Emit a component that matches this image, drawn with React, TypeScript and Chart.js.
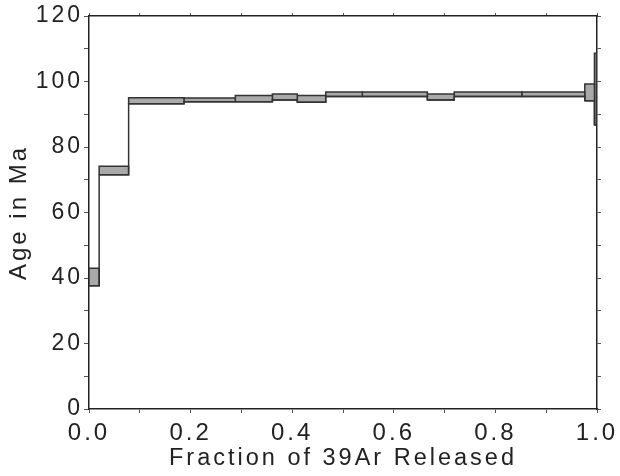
import React, { useEffect, useRef } from "react";
import { Chart, registerables } from "chart.js";

Chart.register(...registerables);

// Step boundaries (cumulative fraction of 39Ar released)
const stepStart = [0, 0.02, 0.078, 0.187, 0.288, 0.361, 0.41, 0.466, 0.538, 0.666, 0.719, 0.852, 0.976, 0.995];
const stepEnd = [0.02, 0.078, 0.187, 0.288, 0.361, 0.41, 0.466, 0.538, 0.666, 0.719, 0.852, 0.976, 0.995, 0.999];
// Age ranges (Ma), lower and upper of each step box
const ageLow = [37.6, 71.5, 93.2, 93.8, 93.8, 94.35, 93.7, 95.4, 95.4, 94.35, 95.4, 95.4, 94.1, 86.7];
const ageHigh = [43.0, 74.1, 95.05, 94.96, 95.7, 96.2, 95.7, 96.8, 96.8, 96.2, 96.8, 96.8, 99.2, 108.6];

const FONT = "'Liberation Sans', Arial, sans-serif";
const TXT = "#222";
const SPACING = "3px";

const spacingPlugin = {
  id: "letterSpacing",
  beforeUpdate(chart: any) {
    chart.ctx.letterSpacing = SPACING;
  },
  beforeDraw(chart: any) {
    chart.ctx.letterSpacing = SPACING;
  },
};

const noPad = (s: any) => {
  s.paddingLeft = 0;
  s.paddingRight = 0;
  s.paddingTop = 0;
  s.paddingBottom = 0;
};

export default function App() {
  const ref = useRef<HTMLCanvasElement | null>(null);

  useEffect(() => {
    if (!ref.current) return;
    const boxes = stepStart.map((x0, i) => ({
      data: [
        { x: x0, y: ageLow[i] },
        { x: stepEnd[i], y: ageLow[i] },
        { x: stepEnd[i], y: ageHigh[i] },
        { x: x0, y: ageHigh[i] },
        { x: x0, y: ageLow[i] },
      ],
      showLine: true,
      fill: "shape",
      backgroundColor: "#a9a9a9",
      borderColor: "#333",
      borderWidth: 1.5,
      pointRadius: 0,
      tension: 0,
    }));
    const connector = {
      data: [
        ...stepStart.map((x0, i) => ({ x: x0, y: ageLow[i] })),
        { x: stepEnd[stepEnd.length - 1], y: ageLow[ageLow.length - 1] },
      ],
      showLine: true,
      stepped: "before",
      fill: false,
      borderColor: "#333",
      borderWidth: 1.5,
      pointRadius: 0,
    };
    const chart = new Chart(ref.current, {
      type: "scatter",
      data: { datasets: [connector as any, ...(boxes as any[])] },
      plugins: [spacingPlugin],
      options: {
        animation: false,
        responsive: false,
        maintainAspectRatio: false,
        layout: { padding: 0 },
        plugins: { legend: { display: false }, tooltip: { enabled: false } },
        scales: {
          x: {
            type: "linear",
            position: "bottom",
            min: 0,
            max: 1,
            afterFit: (s: any) => { s.height = 67; noPad(s); },
            ticks: {
              stepSize: 0.1,
              autoSkip: false,
              maxRotation: 0,
              padding: 6,
              color: TXT,
              font: { family: FONT, size: 24 },
              callback: (v: any) => (Math.round(Number(v) * 10) % 2 === 0 ? Number(v).toFixed(1) : ""),
            },
            grid: { drawOnChartArea: false, drawTicks: true, tickLength: 4, color: "#555", lineWidth: 1 },
            border: { display: true, color: "#222", width: 1.5 },
            title: {
              display: true,
              text: "Fraction of 39Ar Released",
              color: TXT,
              font: { family: FONT, size: 23.5 },
              padding: { top: 0, bottom: 3 },
            },
          },
          x2: {
            type: "linear",
            position: "top",
            min: 0,
            max: 1,
            afterFit: (s: any) => { s.height = 16; noPad(s); },
            ticks: { display: false, stepSize: 0.1, autoSkip: false },
            grid: { drawOnChartArea: false, drawTicks: true, tickLength: 3, color: "#555" },
            border: { display: true, color: "#222", width: 1.5 },
          },
          y: {
            type: "linear",
            position: "left",
            min: 0,
            max: 120,
            afterFit: (s: any) => { s.width = 89; noPad(s); },
            ticks: {
              stepSize: 10,
              autoSkip: false,
              padding: 1,
              color: TXT,
              font: { family: FONT, size: 23 },
              callback: (v: any) => (Number(v) % 20 === 0 ? String(v) : ""),
            },
            grid: { drawOnChartArea: false, drawTicks: true, tickLength: 5, color: "#555" },
            border: { display: true, color: "#222", width: 1.5 },
            title: {
              display: true,
              text: "Age in Ma",
              color: TXT,
              font: { family: FONT, size: 24 },
              padding: { top: 5, bottom: 0 },
            },
          },
          y2: {
            type: "linear",
            position: "right",
            min: 0,
            max: 120,
            afterFit: (s: any) => { s.width = 23; noPad(s); },
            ticks: { display: false, stepSize: 10, autoSkip: false },
            grid: { drawOnChartArea: false, drawTicks: true, tickLength: 4, color: "#555" },
            border: { display: true, color: "#222", width: 1.5 },
          },
        },
      } as any,
    });
    return () => chart.destroy();
  }, []);

  return (
    <div style={{ position: "absolute", left: 0, top: 0, width: 620, height: 476, background: "#fff" }}>
      <canvas ref={ref} width={620} height={476} style={{ width: 620, height: 476, display: "block" }} />
    </div>
  );
}
